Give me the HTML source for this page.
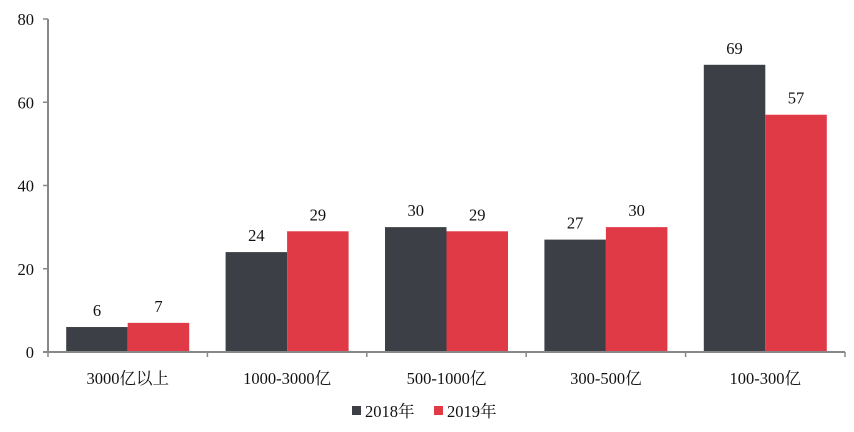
<!DOCTYPE html>
<html><head><meta charset="utf-8"><style>
html,body{margin:0;padding:0;background:#fff;}
svg{display:block;}
text{font-family:"Liberation Serif","Noto Serif CJK SC","Noto Sans CJK SC",serif;font-size:16.5px;fill:#111;}
</style></head><body>
<svg id="chart" width="854" height="432"></svg>
<script>
const categories = ["3000亿以上","1000-3000亿","500-1000亿","300-500亿","100-300亿"];
const series2018 = [6,24,30,27,69];
const series2019 = [7,29,29,30,57];
const yTicks = [0,20,40,60,80];
const seriesNames = ["2018年","2019年"];
const colors = ["#3d3f46","#e03a47"];

const svg = document.getElementById('chart');
const NS = 'http://www.w3.org/2000/svg';
const x0 = 48, x1 = 845, yBase = 352, yTop = 19, yMax = 80;
const yScale = v => yBase - v / yMax * (yBase - yTop);
const groupW = (x1 - x0) / categories.length;
const barW = 61.5;
const xGroup = i => x0 + groupW * (i + 0.5);
function mk(tag, attrs, parent) {
  const e = document.createElementNS(NS, tag);
  for (const k in attrs) e.setAttribute(k, attrs[k]);
  (parent || svg).appendChild(e);
  return e;
}
const yAxis = mk('line', {x1: x0, y1: yTop, x2: x0, y2: yBase, stroke: '#888', 'stroke-width': 2});


yTicks.forEach(t => {
  const y = yScale(t);
  const tk = mk('line', {x1: x0 - 5, y1: y, x2: x0, y2: y, stroke: '#888', 'stroke-width': 1.5});
  
  
  const lb = mk('text', {x: 34, y: y + 6, 'text-anchor': 'end'});
  lb.textContent = t;
  
  
});
[series2018, series2019].forEach((s, si) => {
  s.forEach((v, i) => {
    const x = xGroup(i) - barW + si * barW;
    const y = yScale(v);
    const r = mk('rect', {x: x, y: y, width: barW, height: yBase - y, fill: colors[si]});
    
    
    const t = mk('text', {x: x + barW / 2, y: y - 11, 'text-anchor': 'middle'});
    t.textContent = v;
    
    
  });
});
const xAxis = mk('line', {x1: x0 - 5, y1: yBase, x2: x1, y2: yBase, stroke: '#888', 'stroke-width': 2});


for (let i = 0; i <= categories.length; i++) {
  const x = x0 + groupW * i;
  const tk = mk('line', {x1: x, y1: yBase, x2: x, y2: yBase + 5, stroke: '#888', 'stroke-width': 1.5});
  
  
}
categories.forEach((c, i) => {
  const t = mk('text', {x: xGroup(i), y: 384, 'text-anchor': 'middle'});
  t.textContent = c;
  
  
});
const legX = [352, 434];
seriesNames.forEach((n, i) => {
  const r = mk('rect', {x: legX[i], y: 406, width: 9, height: 9, fill: colors[i]});
  
  
  const t = mk('text', {x: legX[i] + 13, y: 417});
  t.textContent = n;
  
  
});
</script>
</body></html>
